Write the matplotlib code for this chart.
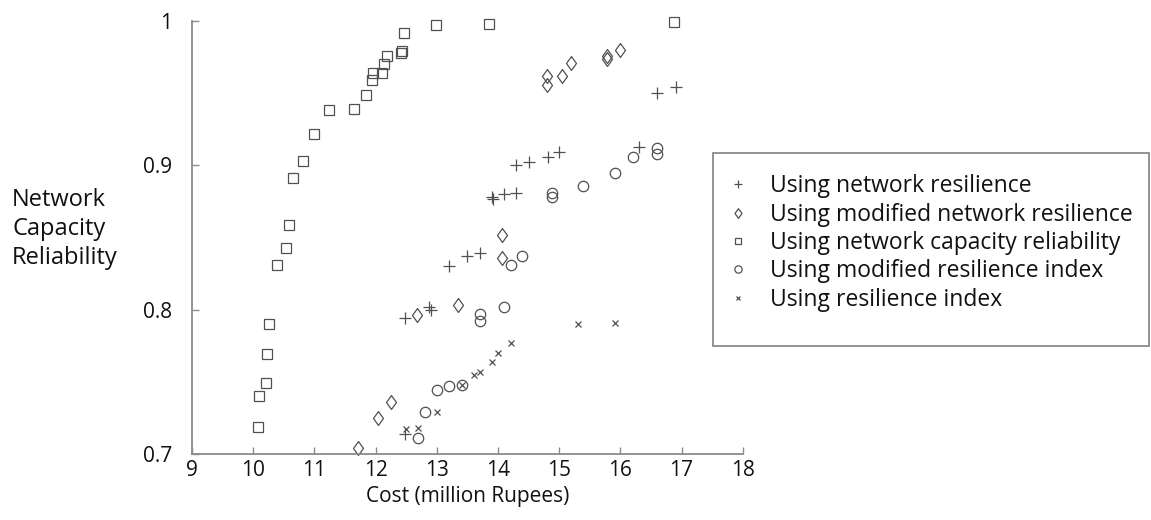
import matplotlib
matplotlib.use("Agg")
import matplotlib.pyplot as plt
from matplotlib.patches import Rectangle

plt.rcParams['font.family'] = ['Open Sans', 'DejaVu Sans']

# Using network resilience (+)
nr_x = [12.48, 12.48, 12.88, 12.90, 13.20, 13.50, 13.71, 13.90, 13.92, 14.10, 14.29,
        14.30, 14.51, 14.81, 15.00, 16.31, 16.60, 16.91]
nr_y = [0.714, 0.794, 0.802, 0.800, 0.830, 0.837, 0.839, 0.878, 0.877, 0.880, 0.881,
        0.900, 0.902, 0.906, 0.909, 0.913, 0.950, 0.954]

# Using modified network resilience (diamond)
mnr_x = [11.72, 12.04, 12.25, 12.67, 13.35, 14.06, 14.06, 14.80, 14.80, 15.04, 15.19,
         15.78, 15.78, 16.00]
mnr_y = [0.704, 0.725, 0.736, 0.796, 0.803, 0.836, 0.852, 0.962, 0.956, 0.962, 0.971,
         0.976, 0.974, 0.980]

# Using network capacity reliability (square)
ncr_x = [10.08, 10.10, 10.21, 10.22, 10.26, 10.39, 10.53, 10.58, 10.65, 10.82, 11.00,
         11.24, 11.64, 11.85, 11.94, 11.96, 12.11, 12.13, 12.19, 12.41, 12.43, 12.46,
         12.98, 13.86, 16.88]
ncr_y = [0.719, 0.740, 0.749, 0.769, 0.790, 0.831, 0.843, 0.859, 0.891, 0.903, 0.922,
         0.938, 0.939, 0.949, 0.959, 0.964, 0.964, 0.970, 0.976, 0.978, 0.979, 0.992,
         0.997, 0.998, 0.999]

# Using modified resilience index (circle)
mri_x = [12.70, 12.81, 13.01, 13.20, 13.41, 13.71, 13.71, 14.10, 14.21, 14.40, 14.89,
         14.89, 15.39, 15.91, 16.21, 16.60, 16.60]
mri_y = [0.711, 0.729, 0.744, 0.747, 0.748, 0.797, 0.792, 0.802, 0.831, 0.837, 0.881,
         0.878, 0.886, 0.895, 0.906, 0.912, 0.908]

# Using resilience index (x)
ri_x = [12.49, 12.70, 13.01, 13.41, 13.61, 13.71, 13.91, 14.00, 14.21, 15.31, 15.91]
ri_y = [0.717, 0.718, 0.729, 0.748, 0.755, 0.757, 0.764, 0.770, 0.777, 0.790, 0.791]

labels = ["Using network resilience", "Using modified network resilience",
          "Using network capacity reliability", "Using modified resilience index",
          "Using resilience index"]

xticks = [9, 10, 11, 12, 13, 14, 15, 16, 17, 18]
yticks = [0.7, 0.8, 0.9, 1.0]
ytick_labels = ["0.7", "0.8", "0.9", "1"]

W, H = 1151, 520
fig = plt.figure(figsize=(W / 100, H / 100), dpi=100)
ax = fig.add_axes([192 / W, 1 - 454 / H, (742.7 - 192) / W, (454 - 21) / H])

ec = '#505050'
diamond = [(0, 1), (0.72, 0), (0, -1), (-0.72, 0), (0, 1)]
common = dict(linestyle='none', markeredgewidth=0.9, clip_on=False)
ax.plot(nr_x, nr_y, marker='+', markersize=8, color=ec, label=labels[0], **common)
ax.plot(mnr_x, mnr_y, marker=diamond, markersize=10, markerfacecolor='none',
        markeredgecolor=ec, label=labels[1], **common)
ax.plot(ncr_x, ncr_y, marker='s', markersize=6.5, markerfacecolor='none',
        markeredgecolor=ec, label=labels[2], **common)
ax.plot(mri_x, mri_y, marker='o', markersize=7.5, markerfacecolor='none',
        markeredgecolor=ec, label=labels[3], **common)
ax.plot(ri_x, ri_y, marker='x', markersize=5, color=ec, label=labels[4], **common)

ax.set_xlim(9, 18)
ax.set_ylim(0.7, 1.0)
ax.set_xticks(xticks)
ax.set_yticks(yticks)
ax.set_yticklabels(ytick_labels)
for s in ['top', 'right']:
    ax.spines[s].set_visible(False)
for s in ['left', 'bottom']:
    ax.spines[s].set_color('#8a8a8a')
    ax.spines[s].set_linewidth(1.3)
ax.tick_params(axis='both', direction='in', length=5, width=1.0, color='#8a8a8a',
               labelsize=15, labelcolor='#111111')
ax.tick_params(axis='y', pad=14)
ax.tick_params(axis='x', pad=4)
ax.set_xlabel("Cost (million Rupees)", fontsize=15, color='#111111', labelpad=4)

fig.text(12 / W, 1 - 229 / H, "Network\nCapacity\nReliability", fontsize=17,
         color='#111111', ha='left', va='center', linespacing=1.3)

# legend frame
fig.patches.append(Rectangle((713 / W, 1 - 346 / H), (1149 - 713) / W, (346 - 153) / H,
                             transform=fig.transFigure, fill=False,
                             edgecolor='#8a8a8a', linewidth=1.3))
leg = fig.legend(loc='center left', bbox_to_anchor=(716 / W, 1 - 243 / H),
                 frameon=False, fontsize=16.5, markerscale=0.7, handlelength=0.9,
                 handletextpad=0.95, labelspacing=0.19, borderpad=0.0)
for t in leg.get_texts():
    t.set_color('#111111')

fig.savefig("out.png", dpi=100)
